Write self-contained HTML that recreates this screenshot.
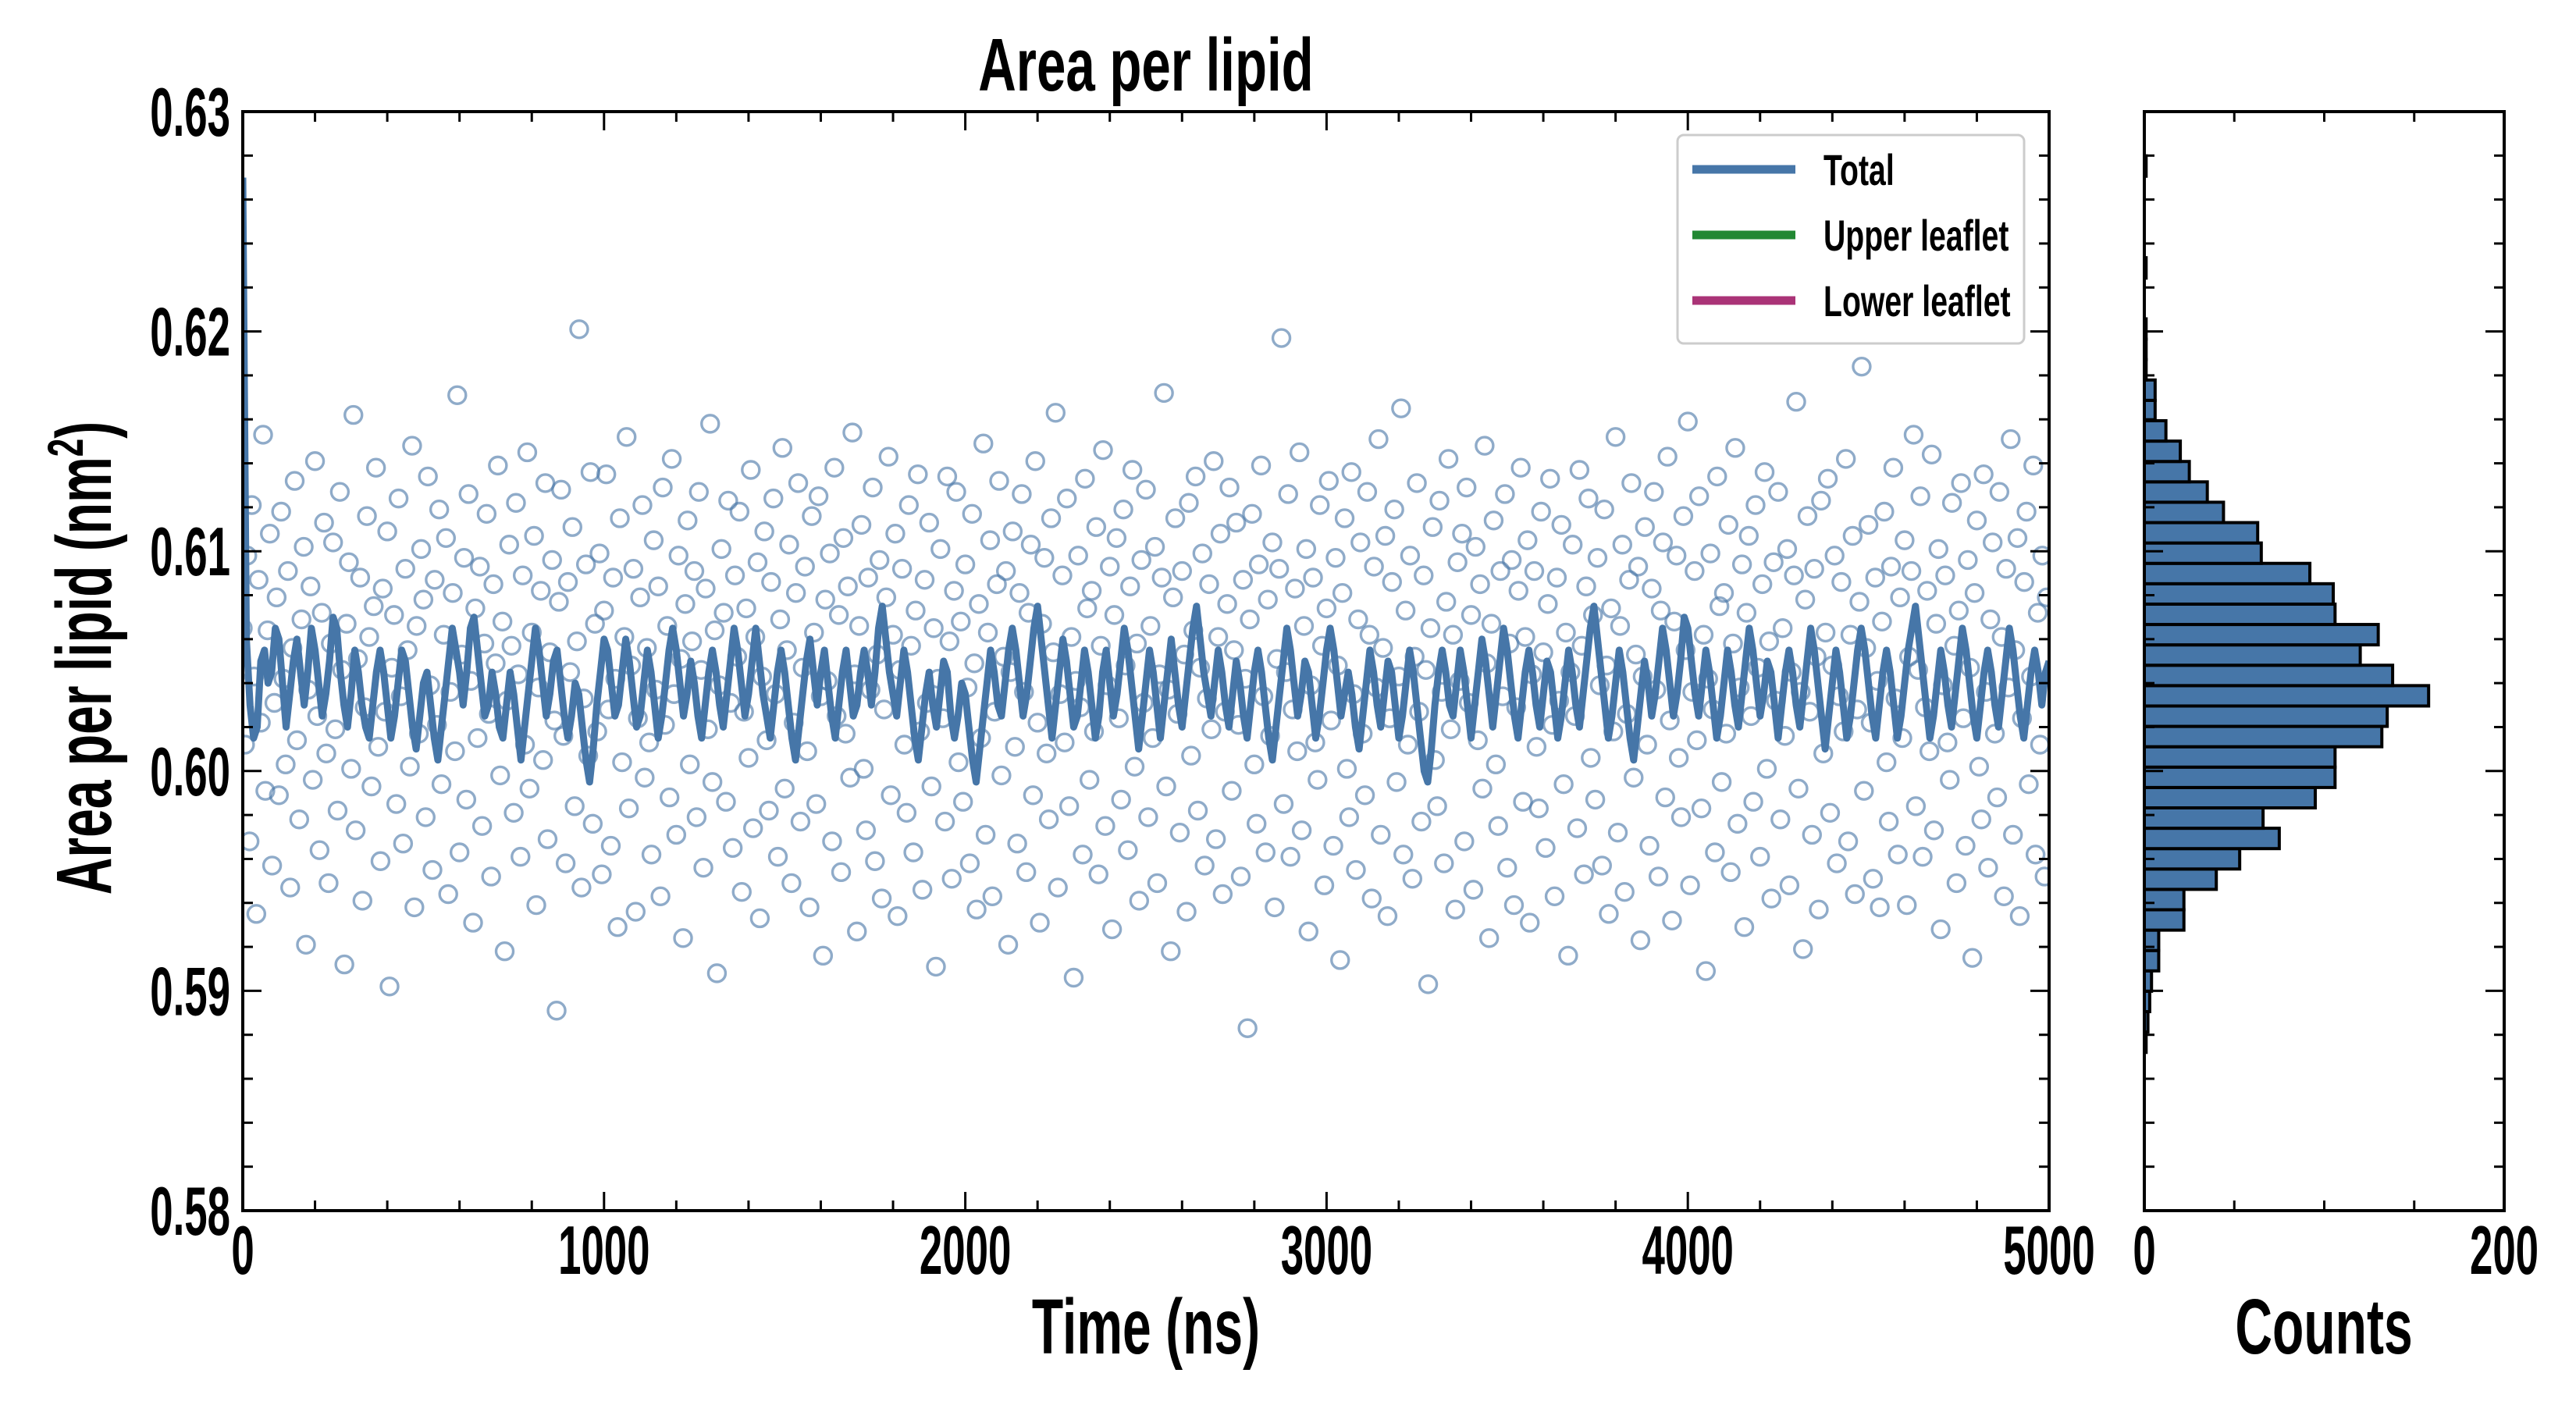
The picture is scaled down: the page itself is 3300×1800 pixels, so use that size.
<!DOCTYPE html>
<html><head><meta charset="utf-8"><title>Area per lipid</title>
<style>html,body{margin:0;padding:0;background:#fff}svg{display:block}text{font-family:"Liberation Sans",sans-serif;font-weight:bold;fill:#000}</style>
</head><body>
<svg id="chart" width="3300" height="1800" viewBox="0 0 3300 1800" xmlns="http://www.w3.org/2000/svg">
<rect width="3300" height="1800" fill="#fff"/>
<defs><clipPath id="plotclip"><rect x="311" y="143" width="2314" height="1408"/></clipPath></defs>
<g id="scatter" clip-path="url(#plotclip)"></g>
<g id="line" clip-path="url(#plotclip)"></g>
<g id="hist"></g>
<g id="axes"></g>
<g id="legend"></g>
</svg>
<script>
const scatterStep = 6.25;
const scatterValues = [
.6065,.6012,.6098,.5968,.6121,.6043,.5935,.6087,.6022,.6153,.5991,.6064,.6108,.5957,.6031,.6079,.5989,.6118,.6042,.6003,
.6091,.5947,.6056,.6132,.6014,.5978,.6069,.6102,.5921,.6037,.6084,.5996,.6141,.6025,.5964,.6072,.6113,.6008,.5949,.6058,
.6104,.6019,.5982,.6127,.6046,.5912,.6067,.6095,.6001,.6162,.5973,.6051,.6088,.5941,.6029,.6116,.6061,.5993,.6075,.6138,
.6011,.5959,.6083,.6027,.6109,.5902,.6047,.6071,.5985,.6124,.6034,.5967,.6092,.6055,.6002,.6148,.5938,.6066,.6017,.6101,
.6078,.5979,.6134,.6039,.5955,.6087,.6021,.6119,.5994,.6062,.6106,.5944,.6036,.6081,.6009,.6171,.5963,.6053,.6097,.5987,
.6126,.6041,.5931,.6074,.6015,.6093,.5975,.6058,.6117,.6026,.5952,.6085,.6049,.6139,.5998,.6068,.5918,.6032,.6103,.6057,
.5981,.6122,.6044,.5961,.6089,.6012,.6145,.5992,.6063,.6107,.5939,.6038,.6082,.6005,.6131,.5969,.6054,.6096,.6023,.5891,
.6077,.6128,.6016,.5958,.6086,.6045,.6111,.5984,.6059,.6201,.5947,.6033,.6094,.6007,.6136,.5976,.6067,.6018,.6099,.5953,
.6073,.6135,.6028,.5966,.6088,.6042,.5929,.6115,.6004,.6061,.6152,.5983,.6048,.6092,.5936,.6024,.6079,.6121,.5997,.6056,
.6013,.5962,.6105,.6037,.6084,.5943,.6129,.6021,.6066,.5988,.6142,.6035,.5971,.6098,.6051,.5924,.6076,.6114,.6003,.6059,
.6091,.5979,.6127,.6046,.5956,.6083,.6019,.6158,.5995,.6064,.5908,.6039,.6101,.6072,.5986,.6123,.6031,.5965,.6089,.6052,
.6118,.5945,.6027,.6074,.6006,.6137,.5974,.6061,.6095,.5933,.6043,.6109,.6014,.5982,.6086,.6124,.6035,.5961,.6069,.6147,
.5992,.6055,.6103,.5949,.6022,.6081,.6131,.5977,.6047,.6093,.6009,.5938,.6116,.6063,.5985,.6125,.6034,.5916,.6078,.6041,
.6099,.5968,.6138,.6025,.6071,.5954,.6106,.6017,.6084,.5997,.6154,.6044,.5927,.6066,.6112,.6001,.5973,.6088,.6037,.6129,
.5959,.6053,.6096,.5942,.6028,.6079,.6143,.5989,.6062,.6108,.5934,.6046,.6092,.6012,.5981,.6121,.6057,.5963,.6073,.6135,
.6018,.5946,.6087,.6031,.6113,.5993,.6065,.5911,.6042,.6101,.6024,.5977,.6134,.6059,.5951,.6082,.6127,.6004,.6068,.5986,
.6094,.6038,.5958,.6117,.6049,.5937,.6076,.6015,.6149,.5971,.6063,.6105,.5943,.6027,.6085,.6132,.5998,.6052,.6091,.5921,
.6045,.6109,.6011,.5967,.6081,.6126,.6036,.5954,.6072,.6103,.5989,.6141,.6022,.5931,.6067,.6097,.6008,.5978,.6115,.6054,
.6163,.5947,.6035,.6089,.6013,.6124,.5984,.6061,.5906,.6041,.6098,.6029,.5962,.6133,.6074,.5996,.6082,.6018,.6111,.5953,
.6057,.6146,.5975,.6039,.6093,.5928,.6071,.6106,.6024,.5987,.6119,.6048,.5964,.6084,.6137,.6002,.6058,.5941,.6096,.6031,
.6128,.5979,.6066,.6015,.6102,.5949,.6044,.6088,.6172,.5993,.6037,.5918,.6079,.6115,.6026,.5972,.6091,.6053,.5936,.6122,
.6007,.6064,.6134,.5982,.6047,.6099,.5957,.6033,.6085,.6019,.6141,.5969,.6061,.6108,.5944,.6027,.6076,.6129,.5991,.6055,
.6113,.6021,.5952,.6087,.6042,.5883,.6069,.6117,.6003,.5976,.6094,.6139,.6034,.5963,.6078,.6016,.6104,.5938,.6051,.6092,
.6197,.5985,.6045,.6126,.5961,.6028,.6083,.6009,.6145,.5973,.6066,.6101,.5927,.6039,.6088,.6013,.5996,.6121,.6057,.5948,
.6074,.6132,.6023,.5966,.6097,.6048,.5914,.6081,.6115,.6001,.5979,.6136,.6035,.5955,.6069,.6104,.6017,.5989,.6127,.6062,
.5942,.6093,.6038,.6151,.5971,.6056,.6107,.5934,.6024,.6086,.6119,.5995,.6043,.6165,.5962,.6073,.6012,.6098,.5951,.6052,
.6131,.6027,.5977,.6089,.6046,.5903,.6065,.6111,.6005,.5984,.6123,.6036,.5958,.6077,.6142,.6019,.6062,.5937,.6095,.6041,
.6108,.5968,.6129,.6031,.6071,.5946,.6102,.6014,.6085,.5992,.6148,.6049,.5924,.6067,.6114,.6003,.5975,.6091,.6034,.6126,
.5956,.6058,.6096,.5939,.6029,.6082,.6138,.5986,.6061,.6105,.5931,.6044,.6091,.6011,.5983,.6118,.6054,.5965,.6076,.6133,
.6021,.5943,.6088,.6032,.6112,.5994,.6063,.5916,.6045,.6103,.6025,.5974,.6137,.6057,.5953,.6084,.6124,.6006,.6071,.5987,
.6097,.6039,.5957,.6119,.6048,.5935,.6074,.6018,.6152,.5972,.6066,.6103,.5945,.6026,.6087,.6131,.5997,.6053,.6093,.5923,
.6043,.6111,.6012,.5966,.6083,.6127,.6037,.5952,.6073,.6104,.5988,.6143,.6023,.5932,.6068,.6098,.6006,.5979,.6116,.6055,
.6159,.5948,.6036,.6091,.6014,.6125,.5983,.6062,.5909,.6042,.6099,.6028,.5963,.6134,.6075,.5995,.6081,.6017,.6112,.5954,
.6058,.6147,.5976,.6038,.6094,.5929,.6072,.6107,.6025,.5986,.6121,.6047,.5961,.6085,.6136,.6001,.6059,.5942,.6095,.6032,
.6127,.5978,.6065,.6016,.6101,.5948,.6045,.6089,.6168,.5992,.6036,.5919,.6078,.6116,.6027,.5971,.6092,.6052,.5937,.6123,
.6008,.6063,.6133,.5981,.6048,.6098,.5958,.6034,.6086,.6018,.6142,.5968,.6062,.6107,.5944,.6028,.6077,.6184,.5991,.6056,
.6112,.6022,.5951,.6088,.6041,.5938,.6068,.6118,.6004,.5977,.6093,.6138,.6033,.5962,.6079,.6015,.6105,.5939,.6052,.6091,
.6153,.5984,.6046,.6125,.5961,.6029,.6082,.6009,.6144,.5973,.6067,.6101,.5928,.6039,.6089,.6013,.5996,.6122,.6057,.5949,
.6073,.6131,.6024,.5966,.6096,.6047,.5915,.6081,.6114,.6002,.5978,.6135,.6036,.5956,.6069,.6104,.6017,.5988,.6127,.6061,
.5943,.6092,.6038,.6151,.5971,.6055,.6106,.5934,.6024,.6086,.6118,.5994,.6043,.6139,.5962,.6072,.6012,.6098,.5952,.6079
];
const lineStep = 10;
const lineValues = [
.627,.606,.603,.6015,.602,.605,.6055,.604,.6045,.6065,.606,.604,.602,.6035,.605,.606,.6045,.603,.6045,.6065,
.6055,.604,.6025,.6035,.605,.607,.6065,.6045,.603,.602,.6035,.6055,.6045,.603,.602,.6015,.603,.6045,.6055,.6045,
.603,.6015,.6025,.604,.6055,.605,.6035,.602,.601,.6025,.604,.6045,.603,.6015,.6005,.602,.6035,.605,.6065,.6055,
.6045,.603,.6045,.6065,.607,.6055,.604,.6025,.603,.6045,.6035,.602,.6015,.603,.6045,.6035,.602,.6005,.602,.6035,
.605,.6065,.6055,.604,.6025,.6035,.605,.6055,.604,.6025,.6015,.6025,.604,.6035,.602,.6005,.5995,.601,.603,.6045,
.606,.6055,.604,.6025,.603,.6045,.606,.605,.6035,.602,.6025,.604,.6055,.6045,.603,.6015,.6025,.604,.6055,.6065,
.6055,.604,.6025,.6035,.605,.604,.6025,.6015,.603,.6045,.6055,.6045,.603,.602,.6035,.605,.6065,.6055,.604,.6025,
.6035,.605,.6065,.605,.6035,.6025,.6015,.603,.6045,.6055,.6045,.603,.6015,.6005,.602,.6035,.605,.606,.6045,.603,
.6045,.6055,.604,.6025,.6015,.603,.6045,.6055,.604,.6025,.603,.6045,.6055,.6045,.603,.6045,.6065,.6075,.606,.6045,
.6035,.6025,.604,.6055,.6045,.603,.6015,.6005,.602,.6035,.6045,.603,.602,.6035,.605,.6045,.6025,.6015,.6025,.604,
.6035,.602,.6005,.5995,.601,.6025,.604,.6055,.6045,.603,.6025,.604,.6055,.6065,.6055,.604,.6025,.6035,.605,.6065,
.6075,.606,.6045,.603,.6015,.603,.6045,.606,.605,.6035,.602,.6025,.604,.6055,.6045,.603,.6015,.6025,.6045,.6055,
.604,.6025,.6035,.605,.6065,.6055,.604,.6025,.601,.6025,.604,.6055,.6045,.603,.6015,.603,.6045,.606,.6045,.603,
.602,.6035,.605,.6065,.6075,.606,.6045,.6035,.6025,.604,.6055,.6045,.603,.602,.6035,.605,.604,.6025,.6015,.603,
.6045,.6055,.6045,.603,.6015,.6005,.602,.6035,.605,.6065,.6055,.604,.6025,.6035,.605,.6045,.603,.6015,.6025,.604,
.6055,.6065,.6055,.604,.6025,.6035,.6045,.6035,.602,.601,.6025,.604,.6055,.6045,.603,.602,.6035,.605,.6045,.603,
.6015,.6025,.604,.6055,.6045,.603,.6015,.600,.5995,.601,.603,.6045,.6055,.6045,.603,.6025,.604,.6055,.6045,.603,
.6015,.603,.6045,.606,.605,.6035,.602,.6035,.605,.6065,.6055,.604,.6025,.6015,.603,.6045,.6055,.6045,.603,.602,
.6035,.605,.6045,.603,.6015,.6025,.604,.6055,.6045,.603,.602,.6035,.605,.6065,.6075,.606,.6045,.603,.6015,.6025,
.604,.6055,.6045,.603,.6015,.6005,.602,.6035,.605,.604,.6025,.6035,.605,.6065,.6055,.604,.6025,.6035,.605,.607,
.6065,.605,.6035,.6025,.604,.6055,.6045,.603,.6015,.6025,.604,.6055,.6045,.603,.602,.6035,.605,.6065,.6055,.604,
.6025,.6035,.605,.6045,.603,.6015,.603,.6045,.6055,.6045,.603,.602,.6035,.605,.6065,.6055,.604,.6025,.601,.6025,
.604,.6055,.6045,.603,.6015,.6025,.604,.6055,.6065,.6055,.604,.6025,.6015,.603,.6045,.6055,.6045,.603,.6015,.6025,
.604,.6055,.6065,.6075,.606,.6045,.603,.6015,.6025,.604,.6055,.6045,.603,.602,.6035,.605,.6065,.6055,.604,.6025,
.6015,.603,.6045,.6055,.6045,.603,.602,.6035,.605,.6065,.6055,.604,.6025,.6015,.603,.6045,.6055,.6045,.603,.6045,
.605
];
const histBinStart = 0.5872;
const histBinWidth = 0.000927;
const histCounts = [1,2,3,4,8,8,22,22,40,53,75,66,95,106,106,132,135,158,138,120,130,106,105,92,65,63,44,35,25,20,12,6,6,1,1,1,0,0,1,0,0,0,0,1];
const xTicks = [0,1000,2000,3000,4000,5000];
const xTickLabels = ["0","1000","2000","3000","4000","5000"];
const yTicks = [0.58,0.59,0.60,0.61,0.62,0.63];
const yTickLabels = ["0.58","0.59","0.60","0.61","0.62","0.63"];
const histTicks = [0,200];
const histTickLabels = ["0","200"];
const legendLabels = ["Total","Upper leaflet","Lower leaflet"];
const legendColors = ["#4676a8","#228833","#aa3377"];

const NS = "http://www.w3.org/2000/svg";
const L = 311, R = 2625, T = 143, B = 1551, HL = 2747, HR = 3208;
const X0 = 0, X1 = 5000, Y0 = 0.58, Y1 = 0.63, C1 = 200;
function xs(t){ return L + (t - X0) / (X1 - X0) * (R - L); }
function ys(v){ return B - (v - Y0) / (Y1 - Y0) * (B - T); }
function hx(c){ return HL + c / C1 * (HR - HL); }
function mk(tag, attrs, parent){
  const e = document.createElementNS(NS, tag);
  for (const k in attrs) e.setAttribute(k, attrs[k]);
  parent.appendChild(e);
  return e;
}
function txt(parent, s, x, y, size, sx, anchor){
  const e = mk('text', {transform: 'translate(' + x + ',' + y + ') scale(' + sx + ',1)', 'font-size': size, 'text-anchor': anchor}, parent);
  e.textContent = s;
  return e;
}
const scatterG = document.getElementById('scatter');
scatterValues.forEach(function(v, i){
  const c = mk('circle', {cx: xs(i * scatterStep), cy: ys(v), r: 11, fill: 'none', stroke: '#4a78a8', 'stroke-opacity': 0.62, 'stroke-width': 3.4}, scatterG);
  
  
});
const lineG = document.getElementById('line');
const pts = lineValues.map(function(v, i){ return xs(i * lineStep).toFixed(1) + ',' + ys(v).toFixed(1); }).join(' ');
const pl = mk('polyline', {points: pts, fill: 'none', stroke: '#4676a8', 'stroke-width': 9, 'stroke-linejoin': 'round'}, lineG);



const histG = document.getElementById('hist');
histCounts.forEach(function(c, i){
  if (c <= 0) return;
  const lo = histBinStart + i * histBinWidth, hi = lo + histBinWidth;
  const b = mk('rect', {x: HL, y: ys(hi), width: hx(c) - HL, height: ys(lo) - ys(hi), fill: '#4676a8', stroke: '#000', 'stroke-width': 4}, histG);
  
  
});

const ax = document.getElementById('axes');
const frame = {stroke: '#000', 'stroke-width': 4, fill: 'none'};
const f1 = mk('rect', Object.assign({x: L, y: T, width: R - L, height: B - T}, frame), ax);


const f2 = mk('rect', Object.assign({x: HL, y: T, width: HR - HL, height: B - T}, frame), ax);


function tick(x1, y1, x2, y2){ mk('line', {x1: x1, y1: y1, x2: x2, y2: y2, stroke: '#000', 'stroke-width': 3}, ax); }
for (let t = 0; t <= 5000; t += 200){
  const len = (t % 1000 === 0) ? 24 : 13;
  tick(xs(t), B, xs(t), B - len); tick(xs(t), T, xs(t), T + len);
}
for (let k = 0; k <= 25; k++){
  const v = Y0 + k * 0.002, len = (k % 5 === 0) ? 24 : 13;
  tick(L, ys(v), L + len, ys(v)); tick(R, ys(v), R - len, ys(v));
  tick(HL, ys(v), HL + len, ys(v)); tick(HR, ys(v), HR - len, ys(v));
}
for (let c = 0; c <= 200; c += 50){
  const len = (c % 200 === 0) ? 24 : 13;
  tick(hx(c), B, hx(c), B - len); tick(hx(c), T, hx(c), T + len);
}
xTicks.forEach(function(t, i){
  const e = txt(ax, xTickLabels[i], xs(t), 1632, 88, 0.6, 'middle');
  
  
});
yTicks.forEach(function(v, i){
  const e = txt(ax, yTickLabels[i], 295, ys(v) + 31, 88, 0.6, 'end');
  
  
});
histTicks.forEach(function(c, i){
  const e = txt(ax, histTickLabels[i], hx(c), 1632, 88, 0.6, 'middle');
  
  
});
const tt = txt(ax, 'Area per lipid', 1468, 116, 96, 0.7, 'middle');


const xl = txt(ax, 'Time (ns)', 1468, 1734, 100, 0.66, 'middle');


const cl = txt(ax, 'Counts', 2977, 1734, 100, 0.66, 'middle');


const yl = mk('text', {transform: 'translate(142,843) rotate(-90) scale(0.66,1)', 'font-size': 100, 'text-anchor': 'middle'}, ax);
yl.innerHTML = 'Area per lipid (nm<tspan dy="-36" font-size="64">2</tspan><tspan dy="36">)</tspan>';



const lg = document.getElementById('legend');
const lb = mk('rect', {x: 2149, y: 173, width: 444, height: 267, rx: 8, fill: '#fff', 'fill-opacity': 0.85, stroke: '#cccccc', 'stroke-width': 3}, lg);


legendLabels.forEach(function(s, i){
  const y = 217 + i * 84;
  const ln = mk('line', {x1: 2168, y1: y, x2: 2300, y2: y, stroke: legendColors[i], 'stroke-width': 11}, lg);
  
  
  const e = txt(lg, s, 2336, y + 20, 56, 0.7, 'start');
  
  
});
</script>
</body></html>
